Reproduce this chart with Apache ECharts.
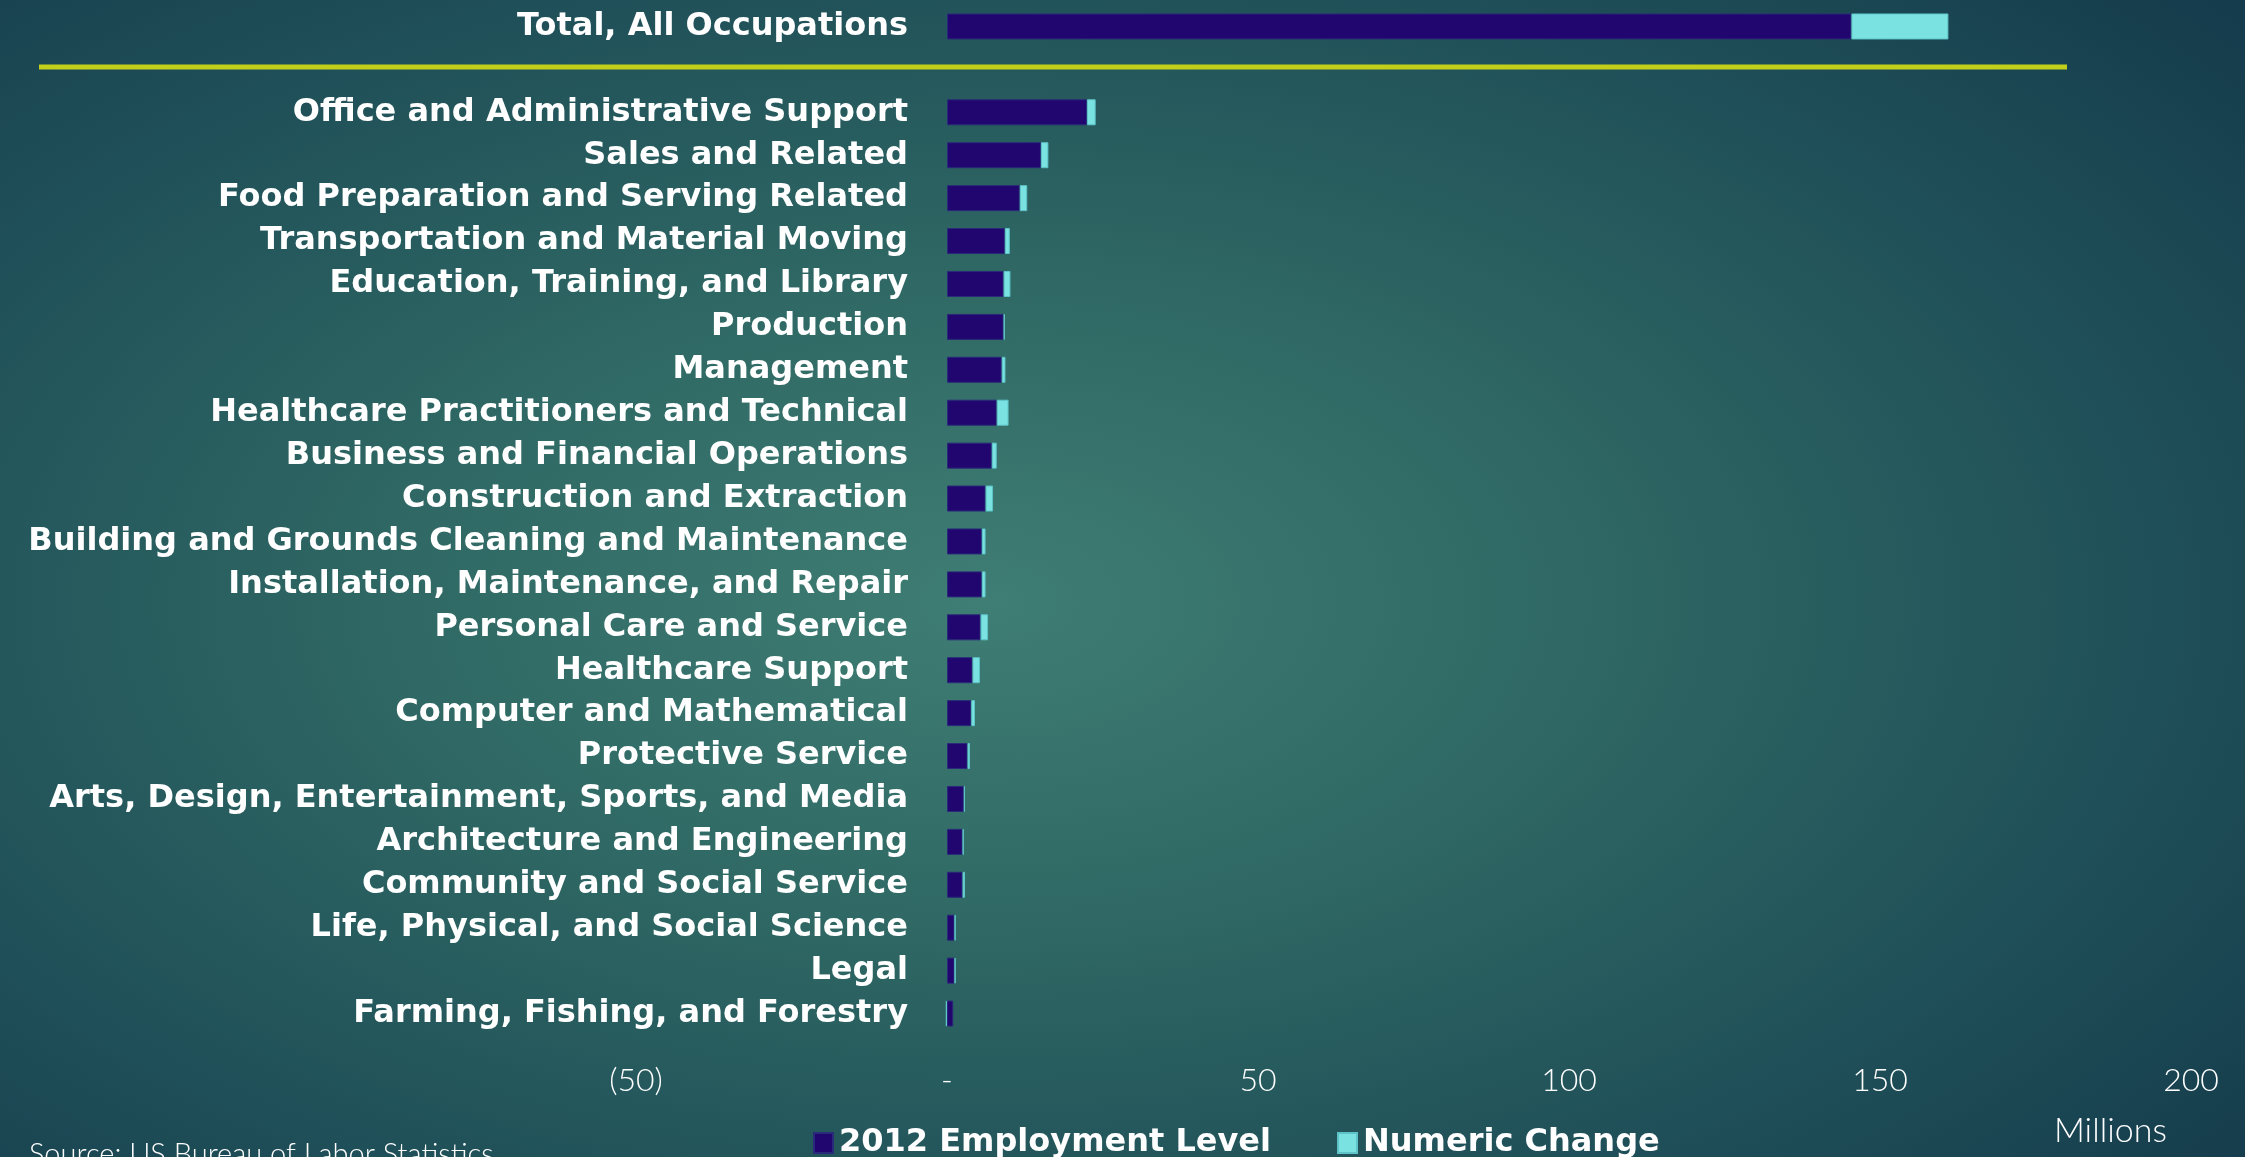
<!DOCTYPE html>
<html>
<head>
<meta charset="utf-8">
<script src="https://cdn.jsdelivr.net/npm/echarts@6/dist/echarts.min.js"></script>
<style>
html,body{margin:0;padding:0;width:2245px;height:1157px;overflow:hidden;}
body{background:radial-gradient(ellipse 75% 80% at 44% 52%, #3f7e74 0%, #2f6864 35%, #1f4f58 70%, #143a4b 100%);}
#chart{width:2245px;height:1157px;}
</style>
</head>
<body>
<div id="chart"></div>
<script>
const categories = [
  'Total, All Occupations', '',
  'Office and Administrative Support',
  'Sales and Related',
  'Food Preparation and Serving Related',
  'Transportation and Material Moving',
  'Education, Training, and Library',
  'Production',
  'Management',
  'Healthcare Practitioners and Technical',
  'Business and Financial Operations',
  'Construction and Extraction',
  'Building and Grounds Cleaning and Maintenance',
  'Installation, Maintenance, and Repair',
  'Personal Care and Service',
  'Healthcare Support',
  'Computer and Mathematical',
  'Protective Service',
  'Arts, Design, Entertainment, Sports, and Media',
  'Architecture and Engineering',
  'Community and Social Service',
  'Life, Physical, and Social Science',
  'Legal',
  'Farming, Fishing, and Forestry'
];
const employment2012 = [145.4, null, 22.5, 15.1, 11.7, 9.3, 9.1, 9.1, 8.8, 8.0, 7.2, 6.2, 5.6, 5.6, 5.4, 4.1, 3.9, 3.3, 2.7, 2.5, 2.5, 1.2, 1.2, 1.0];
const numericChange  = [15.6, null, 1.4, 1.2, 1.2, 0.8, 1.1, 0.2, 0.6, 1.9, 0.8, 1.2, 0.6, 0.6, 1.2, 1.2, 0.6, 0.4, 0.2, 0.2, 0.4, 0.2, 0.2, -0.2];
const seriesNames = ['2012 Employment Level', 'Numeric Change'];
const xTicks = { min: -50, max: 200, interval: 50 };

const chart = echarts.init(document.getElementById('chart'), null, { renderer: 'canvas' });
const labelFont = 'DejaVu Sans';
chart.setOption({
  backgroundColor: 'transparent',
  animation: false,
  grid: { left: 636, right: 54, top: 5, bottom: 122, containLabel: false, outerBoundsMode: 'none' },
  xAxis: {
    type: 'value', min: xTicks.min, max: xTicks.max, interval: xTicks.interval,
    axisLine: { show: false }, axisTick: { show: false }, splitLine: { show: false },
    axisLabel: {
      color: '#ffffff', fontFamily: 'Lato', fontWeight: 300, fontSize: 32, margin: 30,
      formatter: function (v) { return v < 0 ? '(' + Math.abs(v) + ')' : (v === 0 ? '-' : String(v)); }
    }
  },
  yAxis: {
    type: 'category', data: categories, inverse: true,
    axisLine: { show: false },
    axisTick: { show: false }, splitLine: { show: false },
    axisLabel: { color: '#ffffff', fontFamily: labelFont, fontWeight: 'bold', fontSize: 32, margin: -272 }
  },
  legend: {
    data: seriesNames, left: 808, top: 1122, itemWidth: 19, itemHeight: 20, itemGap: 66,
    icon: 'rect',
    textStyle: { color: '#ffffff', fontFamily: labelFont, fontWeight: 'bold', fontSize: 32, padding: [0, 0, 0, 1] }
  },
  graphic: [
    { type: 'line', shape: { x1: 39, y1: 67, x2: 2067, y2: 67 }, style: { stroke: '#c2cf1a', lineWidth: 5 } },
    { type: 'text', left: 2054, top: 1114, style: { text: 'Millions', fill: '#ffffff', font: '300 34px Lato' } },
    { type: 'text', left: 29, top: 1140, style: { text: 'Source: US Bureau of Labor Statistics', fill: '#ffffff', font: '300 29px Lato' } }
  ],
  series: [
    { name: seriesNames[0], type: 'bar', stack: 'a', data: employment2012, barWidth: 26,
      itemStyle: { color: '#20066e', borderColor: '#2a2a7a', borderWidth: 1 } },
    { name: seriesNames[1], type: 'bar', stack: 'a', data: numericChange, barWidth: 26,
      itemStyle: { color: '#7ae3e1', borderColor: '#5fc4c8', borderWidth: 1 } }
  ]
});
</script>
</body>
</html>
